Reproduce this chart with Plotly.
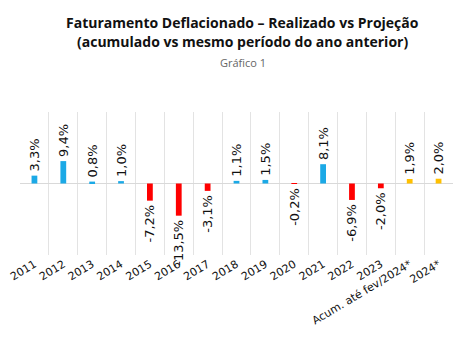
import plotly.graph_objects as go

categories = ["2011", "2012", "2013", "2014", "2015", "2016", "2017", "2018",
              "2019", "2020", "2021", "2022", "2023", "Acum. até fev/2024*", "2024*"]
values = [3.3, 9.4, 0.8, 1.0, -7.2, -13.5, -3.1, 1.1, 1.5, -0.2, 8.1, -6.9, -2.0, 1.9, 2.0]
kinds = ["real"] * 13 + ["proj"] * 2

BLUE, RED, GOLD = "#1BA9E6", "#FF0000", "#FFC000"
colors = [GOLD if k == "proj" else (BLUE if v >= 0 else RED) for v, k in zip(values, kinds)]

# value labels, padded on the side facing the bar (non-breaking space keeps a gap)
PAD = "\u00a0"
labels = []
for v in values:
    s = f"{v:.1f}%".replace(".", ",")
    labels.append(PAD + s if v >= 0 else s + PAD)
xpos = list(range(len(categories)))

BODY = "DejaVu Sans, sans-serif"
HEAD = "Open Sans, sans-serif"

fig = go.Figure(go.Bar(
    x=xpos, y=values, width=0.2, marker_color=colors, marker_line_width=0,
    text=labels, textposition="outside", textangle=-90, constraintext="none",
    textfont=dict(family=BODY, size=13, color="#111"), cliponaxis=False,
))

fig.update_layout(
    width=453, height=340, margin=dict(l=20, r=0, t=112, b=85),
    paper_bgcolor="white", plot_bgcolor="white", showlegend=False,
    font=dict(family=BODY, color="#222"),
    xaxis=dict(range=[-0.5, len(categories) - 0.5], tickvals=xpos, ticktext=categories,
               tickangle=-31, tickfont=dict(size=11, color="#111"), showgrid=False,
               zeroline=False, ticks="",
               minor=dict(tickvals=[i - 0.5 for i in xpos] + [len(categories) - 0.5],
                          showgrid=True, gridcolor="#E3E3E3", gridwidth=1)),
    yaxis=dict(range=[-30, 30], showticklabels=False, showgrid=False,
               zeroline=True, zerolinecolor="#D9D9D9", zerolinewidth=1),
)

# title block placed in pixel space above the plot area
def py(px):
    return 1 + (112 - px) / 143

cx = (243 - 20) / 433
fig.add_annotation(text="<b>Faturamento Deflacionado – Realizado vs Projeção</b>",
                   xref="paper", yref="paper", x=cx, y=py(23), yanchor="middle",
                   showarrow=False, font=dict(family=HEAD, size=14, color="#111"))
fig.add_annotation(text="<b>(acumulado vs mesmo período do ano anterior)</b>",
                   xref="paper", yref="paper", x=cx, y=py(41), yanchor="middle",
                   showarrow=False, font=dict(family=HEAD, size=14, color="#111"))
fig.add_annotation(text="Gráfico 1",
                   xref="paper", yref="paper", x=cx, y=py(63), yanchor="middle",
                   showarrow=False, font=dict(family=HEAD, size=11, color="#666"))

fig.write_html("out.html")
